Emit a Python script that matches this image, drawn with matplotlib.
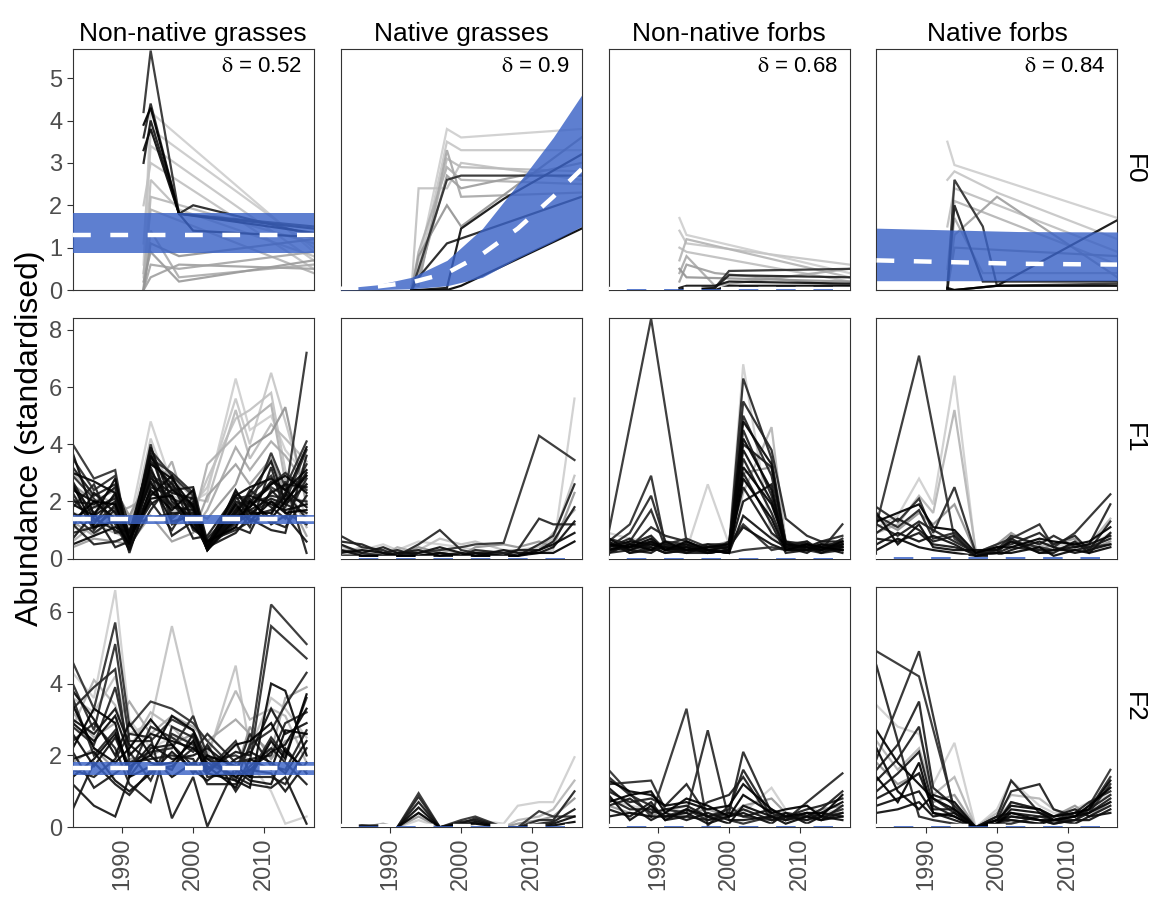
import numpy as np
import matplotlib
matplotlib.use("Agg")
import matplotlib.pyplot as plt

plt.rcParams['font.family'] = ['Liberation Sans', 'DejaVu Sans']
plt.rcParams['mathtext.fontset'] = 'stix'

groups = ["Non-native grasses", "Native grasses", "Non-native forbs", "Native forbs"]
stages = ["F0", "F1", "F2"]
deltas = ["0.52", "0.9", "0.68", "0.84"]
ylims = [5.68, 8.42, 6.7]
yticks = [[0, 1, 2, 3, 4, 5], [0, 2, 4, 6, 8], [0, 2, 4, 6]]
xticks = [1990, 2000, 2010]

# survey years (None = site not surveyed that year)
f0_years = [1993, 1994, 1998, 2000, 2006, 2017]
years = [1983, 1986, 1989, 1991, 1994, 1997, 2000, 2002, 2006, 2008, 2011, 2013, 2016]

# ---- F0 ----
nng_f0_pale = [
    [0.6, 4.2, None, None, None, 0.9],
    [0.3, 3.8, None, None, None, 1.0],
    [1.1, 3.4, None, None, None, 0.7],
    [2.0, 3.0, None, None, None, 0.5],
    [0.0, 2.6, 1.9, None, None, 0.8],
    [0.0, 2.2, None, None, None, 1.1],
    [0.4, 1.9, None, None, None, 0.4],
    [0.0, 1.4, 0.3, None, None, 0.6],
    [0.0, 0.6, 0.5, None, None, 0.9],
    [0.0, 0.3, 0.6, None, None, 0.5],
    [0.2, 0.9, 0.2, None, None, 0.7],
    [0.0, 1.1, 0.8, None, None, 1.2],
]
nng_f0_dark = [
    [4.2, 5.65, 1.8, None, None, 1.5],
    [3.6, 4.4, 1.8, 2.0, None, 1.3],
    [3.0, 4.0, 1.8, None, None, 1.45],
    [3.3, 3.8, 1.8, 1.4, None, 1.25],
    [3.9, 4.3, 1.8, None, None, 1.35],
]
ngr_f0_pale = [
    [0.0, 0.6, 3.8, 3.6, None, 3.8],
    [0.0, 0.4, 3.5, 3.3, None, 3.3],
    [0.0, 2.4, 2.4, 3.0, None, 2.6],
    [0.0, 0.2, 3.1, 2.9, None, 2.8],
    [0.0, 0.9, 2.9, 2.6, None, 2.5],
    [0.1, 0.1, 3.3, 2.2, None, 2.3],
    [0.0, 0.3, 2.7, 2.4, None, 3.0],
    [0.0, 0.8, 2.0, 1.5, None, 3.6],
]
ngr_f0_dark = [
    [0.0, 0.5, 2.6, 2.7, None, 2.7],
    [0.0, 0.3, 1.1, None, None, 2.2],
    [0.0, 0.0, 0.05, 1.45, 2.15, 3.2],
    [0.0, 0.0, 0.0, 0.1, None, 1.45],
]
nnf_f0_pale = [
    [1.7, 1.3, None, None, None, 0.4],
    [1.4, 1.1, None, None, None, 0.6],
    [1.0, 0.9, None, None, None, 0.2],
    [0.7, 1.2, None, None, None, 0.3],
    [0.4, 0.8, 0.1, None, None, 0.5],
    [0.2, 0.6, 0.4, None, None, 0.1],
    [0.5, 0.3, None, None, None, 0.2],
]
nnf_f0_dark = [
    [0.0, 0.0, 0.05, 0.45, None, 0.5],
    [0.0, 0.0, 0.05, 0.35, None, 0.3],
    [0.05, 0.1, 0.1, 0.2, None, 0.15],
    [0.0, 0.05, 0.0, 0.1, None, 0.1],
]
nfb_f0_pale = [
    [3.5, 2.95, None, None, None, 1.7],
    [2.6, 2.8, None, 2.3, None, 1.2],
    [1.5, 2.4, None, None, None, 0.9],
    [0.5, 2.1, None, None, None, 0.6],
    [0.2, 1.7, 0.4, None, None, 0.4],
    [0.0, 1.3, None, 2.2, None, 0.3],
    [0.0, 1.0, None, None, None, 0.8],
]
nfb_f0_dark = [
    [0.0, 2.6, 1.5, 0.1, None, 0.15],
    [0.0, 2.0, 0.2, None, None, 0.2],
    [0.0, 0.0, None, 0.1, None, 1.65],
    [0.05, 0.0, None, 0.1, None, 0.1],
]

# ---- F1 ----
nng_f1_pale = [
    [2.2, 1.8, 1.5, 1.2, 4.8, 2.6, 2.0, 2.3, 6.3, 4.5, 5.0, 3.8, 2.9],
    [1.6, 1.4, 1.1, 0.9, 4.2, 2.2, 1.9, 2.5, 5.6, 4.0, 6.5, 4.8, 2.2],
    [1.0, 1.9, 1.4, 0.8, 3.6, 1.7, 1.6, 2.8, 4.9, 5.2, 5.8, 3.1, 1.5],
    [3.0, 2.3, 1.9, 1.3, 3.3, 2.9, 2.1, 2.0, 5.2, 3.5, 4.7, 4.2, 3.4],
    [0.6, 1.2, 0.9, 0.7, 2.7, 1.2, 1.3, 3.3, 4.3, 4.8, 5.4, 2.7, 1.1],
    [1.3, 0.8, 1.6, 1.8, 2.2, 3.4, 1.0, 1.7, 3.9, 3.1, 4.1, 3.6, 2.6],
    [0.4, 0.7, 0.6, 0.5, 1.5, 0.6, 0.9, 2.2, 3.3, 2.6, 3.5, 2.3, 0.8],
    [2.6, 2.0, 2.4, 1.5, 2.9, 1.9, 1.6, 1.4, 2.6, 3.9, 4.4, 5.3, 1.9],
]
nng_f1_dark = [
    [4.0, 2.8, 3.1, 0.4, 4.0, 1.2, 1.6, 0.3, 1.9, 2.0, 2.5, 2.2, 7.2],
    [3.5, 2.4, 2.9, 0.6, 3.8, 2.9, 2.2, 0.5, 1.6, 1.8, 3.7, 2.5, 4.1],
    [2.9, 2.1, 1.2, 0.3, 3.5, 3.0, 2.3, 0.4, 2.1, 2.2, 2.9, 2.0, 3.8],
    [2.5, 1.6, 2.2, 0.8, 3.2, 1.4, 2.0, 0.3, 1.7, 2.0, 2.6, 3.0, 2.4],
    [2.1, 1.3, 1.8, 0.5, 2.9, 2.5, 1.5, 0.6, 1.2, 1.6, 2.0, 1.8, 3.3],
    [1.8, 2.6, 0.9, 1.0, 2.6, 2.1, 1.8, 0.5, 2.3, 1.9, 2.2, 2.1, 2.0],
    [1.5, 0.9, 1.4, 0.3, 2.3, 1.9, 1.2, 0.4, 1.5, 2.4, 1.8, 1.4, 2.8],
    [1.2, 0.5, 0.6, 0.8, 2.0, 1.0, 2.2, 0.6, 1.0, 1.3, 1.5, 2.7, 0.2],
    [0.9, 1.1, 1.7, 0.4, 1.7, 2.7, 1.0, 0.7, 1.8, 1.1, 3.2, 1.6, 1.2],
    [3.2, 2.2, 2.6, 1.2, 1.4, 1.6, 1.6, 0.3, 1.3, 1.7, 1.3, 1.1, 2.2],
    [0.7, 1.6, 0.4, 0.6, 3.0, 0.8, 1.3, 0.5, 1.1, 0.9, 2.4, 1.9, 1.6],
    [2.3, 1.0, 1.9, 0.2, 2.5, 2.2, 0.7, 0.8, 2.2, 1.4, 1.0, 0.9, 3.6],
    [1.4, 1.8, 2.1, 0.5, 3.7, 1.5, 1.9, 0.4, 0.9, 1.5, 1.7, 2.3, 1.4],
    [2.7, 1.4, 1.0, 0.7, 1.9, 2.4, 2.5, 0.6, 1.4, 2.1, 1.2, 1.5, 0.6],
    [2.0, 1.9, 2.5, 0.6, 3.4, 2.6, 1.7, 0.4, 1.5, 1.7, 2.1, 1.9, 2.6],
    [1.1, 2.3, 1.6, 0.4, 3.9, 2.0, 1.4, 0.3, 2.0, 1.8, 2.7, 2.4, 1.8],
    [3.7, 1.5, 2.0, 0.5, 2.8, 2.3, 2.1, 0.5, 1.7, 2.3, 3.4, 2.0, 3.0],
    [1.6, 1.2, 2.3, 0.7, 3.1, 1.8, 1.7, 0.6, 1.3, 1.5, 2.3, 2.6, 2.5],
    [2.4, 2.0, 1.4, 0.3, 2.2, 2.9, 1.3, 0.4, 1.6, 2.2, 1.9, 1.7, 1.9],
    [0.5, 0.8, 1.1, 0.9, 2.7, 1.3, 1.5, 0.3, 2.4, 1.6, 1.6, 2.2, 3.9],
    [3.0, 2.7, 2.3, 0.9, 3.6, 2.4, 1.9, 0.5, 2.2, 2.5, 2.8, 2.4, 3.1],
    [1.9, 1.5, 2.8, 0.6, 2.4, 1.7, 2.4, 0.3, 1.4, 1.8, 2.6, 2.9, 2.3],
    [2.6, 1.1, 1.3, 0.5, 3.3, 2.8, 1.8, 0.4, 1.9, 1.3, 2.0, 1.6, 1.7],
    [1.3, 2.0, 1.9, 0.7, 2.1, 2.2, 1.1, 0.6, 1.1, 2.0, 1.4, 2.0, 2.9],
]
ngr_f1_pale = [
    [0.4, 0.3, 0.5, 0.3, 0.6, 0.5, 0.4, 0.3, 0.2, 0.1, 0.2, 0.3, 5.6],
    [0.2, 0.4, 0.3, 0.2, 0.3, 0.7, 0.5, 0.6, 0.3, 0.3, 0.4, 0.7, 2.9],
    [0.1, 0.2, 0.1, 0.4, 0.2, 0.3, 0.2, 0.2, 0.1, 0.2, 0.3, 0.9, 1.7],
    [0.5, 0.1, 0.2, 0.1, 0.4, 0.2, 0.1, 0.4, 0.5, 0.4, 0.6, 0.4, 2.3],
]
ngr_f1_dark = [
    [0.3, 0.2, 0.1, 0.1, 0.2, 0.3, 0.4, 0.5, 0.55, None, 4.3, None, 3.45],
    [0.8, 0.4, 0.3, 0.1, 0.5, 1.0, 0.3, 0.2, 0.2, 0.3, 1.4, 1.2, 1.2],
    [0.6, 0.5, 0.2, 0.3, 0.1, 0.2, 0.1, 0.3, 0.2, 0.1, 0.5, 0.8, 2.6],
    [0.5, 0.2, 0.4, 0.2, 0.3, 0.1, 0.2, 0.1, 0.1, 0.3, 0.3, 0.6, 1.8],
    [0.3, 0.1, 0.1, 0.2, 0.2, 0.4, 0.2, 0.1, 0.3, 0.2, 0.2, 0.4, 1.3],
    [0.2, 0.3, 0.2, 0.1, 0.1, 0.2, 0.1, 0.2, 0.1, 0.1, 0.3, 0.5, 0.9],
    [0.1, 0.1, 0.1, 0.1, 0.1, 0.1, 0.1, 0.1, 0.1, 0.1, 0.2, 0.2, 0.6],
]
nnf_f1_pale = [
    [0.9, 0.7, 0.6, 0.5, 0.3, 2.6, 0.5, 6.8, 0.8, 0.5, 0.4, 0.3, 0.3],
    [0.5, 0.3, 0.4, 0.6, 0.4, 0.5, 0.3, 2.3, 4.6, 0.6, 0.5, 0.4, 0.5],
    [0.3, 0.5, 0.8, 0.3, 0.5, 0.4, 0.6, 3.0, 3.2, 0.4, 0.3, 0.6, 0.4],
]
nnf_f1_dark = [
    [0.9, None, 8.4, None, 0.6, 0.3, 0.2, 0.3, 0.4, 0.3, 0.3, 0.4, 0.5],
    [0.6, 1.2, 2.9, 0.5, 0.7, 0.4, 0.5, 1.2, 0.3, 0.4, 0.3, 0.2, 0.3],
    [0.4, 0.9, 2.2, 0.6, 0.5, 0.3, 0.4, 6.3, 3.5, 0.5, 0.6, 0.3, 1.2],
    [0.3, 0.6, 1.7, 0.4, 0.3, 0.2, 0.3, 5.5, 3.8, 1.4, 0.8, 0.6, 0.8],
    [0.5, 0.4, 1.1, 0.8, 0.6, 0.3, 0.2, 5.0, 2.9, 0.6, 0.5, 0.4, 0.6],
    [0.7, 0.5, 0.8, 0.3, 0.4, 0.5, 0.3, 4.5, 2.2, 0.3, 0.4, 0.5, 0.5],
    [0.2, 0.3, 0.5, 0.5, 0.2, 0.2, 0.6, 4.0, 3.2, 0.5, 0.3, 0.3, 0.7],
    [0.6, 0.2, 0.4, 0.2, 0.3, 0.4, 0.4, 3.5, 1.6, 0.4, 0.6, 0.2, 0.4],
    [0.4, 0.7, 0.3, 0.4, 0.5, 0.3, 0.2, 3.0, 1.2, 0.2, 0.3, 0.4, 0.3],
    [0.3, 0.4, 0.6, 0.3, 0.2, 0.5, 0.5, 2.5, 0.9, 0.5, 0.4, 0.6, 0.6],
    [0.5, 0.3, 0.2, 0.5, 0.4, 0.2, 0.3, 2.0, 2.6, 0.3, 0.5, 0.3, 0.4],
    [0.2, 0.5, 0.4, 0.2, 0.3, 0.3, 0.2, 1.5, 0.7, 0.4, 0.2, 0.5, 0.3],
    [0.6, 0.2, 0.3, 0.4, 0.2, 0.4, 0.4, 1.1, 0.5, 0.3, 0.4, 0.2, 0.5],
    [0.3, 0.4, 0.5, 0.3, 0.5, 0.2, 0.3, 3.8, 2.0, 0.6, 0.3, 0.4, 0.2],
    [0.4, 0.6, 0.5, 0.4, 0.3, 0.3, 0.4, 4.8, 3.3, 0.4, 0.5, 0.3, 0.5],
    [0.7, 0.3, 0.6, 0.3, 0.4, 0.2, 0.3, 4.2, 2.4, 0.3, 0.3, 0.5, 0.4],
    [0.3, 0.5, 0.3, 0.6, 0.3, 0.4, 0.5, 3.2, 1.9, 0.5, 0.4, 0.3, 0.6],
    [0.5, 0.4, 0.7, 0.3, 0.6, 0.3, 0.2, 2.8, 1.4, 0.3, 0.5, 0.4, 0.3],
]
nfb_f1_pale = [
    [1.1, 1.5, 2.8, 1.9, 6.4, 0.2, 0.4, 0.8, 0.5, 0.4, 0.6, 0.4, 0.9],
    [0.9, 1.2, 2.2, 1.6, 5.2, 0.3, 0.3, 0.6, 0.4, 0.6, 0.5, 0.5, 1.4],
    [1.4, 1.0, 1.6, 1.2, 1.9, 0.2, 0.5, 0.9, 0.3, 0.5, 0.7, 0.3, 0.6],
]
nfb_f1_dark = [
    [1.2, None, 7.1, None, 0.7, 0.2, 0.3, 0.6, 0.4, 0.3, 0.5, 0.4, 0.5],
    [1.8, 1.3, 2.1, 0.9, 2.5, 0.2, 0.5, 0.7, 1.2, 0.4, 0.9, None, 2.25],
    [1.5, 1.1, 1.7, 0.7, 0.9, 0.1, 0.3, 0.8, 0.5, 0.8, 0.4, 0.5, 1.9],
    [1.2, 0.8, 1.3, 1.0, 0.6, 0.2, 0.4, 0.5, 0.9, 0.5, 0.8, 0.3, 1.3],
    [0.9, 1.4, 1.0, 0.6, 0.8, 0.1, 0.2, 0.4, 0.3, 0.3, 0.3, 0.4, 0.7],
    [0.7, 0.6, 0.9, 0.5, 0.4, 0.2, 0.2, 0.7, 0.2, 0.2, 0.6, 0.2, 0.9],
    [0.5, 0.9, 0.6, 0.8, 0.5, 0.1, 0.1, 0.3, 0.6, 0.4, 0.2, 0.3, 0.5],
    [1.6, 0.5, 1.2, 0.4, 0.3, 0.3, 0.3, 0.6, 0.2, 0.3, 0.4, 0.5, 0.8],
    [0.3, 0.7, 0.4, 0.3, 0.2, 0.1, 0.2, 0.2, 0.4, 0.1, 0.3, 0.2, 0.4],
    [1.3, 1.6, 1.9, 1.1, 1.0, 0.2, 0.4, 0.4, 0.7, 0.6, 0.5, 0.6, 1.1],
]

# ---- F2 ----
nng_f2_pale = [
    [4.3, 3.6, 6.6, 3.0, 2.2, 2.5, 2.4, 1.5, 2.3, 1.8, 1.0, 0.1, 0.3],
    [3.6, 3.2, 4.2, 2.6, 2.9, 5.6, 3.1, 1.9, 4.5, 2.2, 3.6, 3.3, 2.5],
    [2.8, 4.1, 3.4, 2.2, 3.2, 2.8, 2.2, 2.1, 3.8, 3.0, 3.3, 3.1, 1.8],
    [3.2, 2.5, 2.9, 3.5, 2.6, 3.1, 2.8, 2.4, 3.0, 2.6, 2.1, 3.6, 3.9],
    [1.8, 2.2, 1.6, 1.9, 2.0, 2.3, 2.6, 1.7, 1.5, 2.8, 1.9, 2.4, 2.6],
]
nng_f2_dark = [
    [4.6, 3.3, 5.7, 2.8, 3.5, 3.3, 2.9, 2.4, 1.6, 2.2, 6.2, None, 5.1],
    [4.0, 2.7, 5.1, 2.4, 2.4, 3.0, 2.7, 1.9, 2.0, 1.8, 5.6, None, 4.7],
    [3.3, 3.9, 4.4, 1.8, 2.1, 2.2, 3.1, 2.0, 1.3, 2.3, 2.7, 3.4, 4.3],
    [2.8, 2.3, 3.9, 2.1, 1.3, 2.6, 2.3, 1.6, 2.4, 1.5, 2.5, 2.0, 3.6],
    [3.6, 2.0, 2.7, 1.5, 2.8, 2.5, 2.1, 2.6, 1.8, 1.9, 2.0, 2.9, 3.2],
    [2.4, 2.9, 2.2, 1.2, 0.7, 2.8, 2.5, 1.4, 1.5, 2.6, 1.7, 1.6, 2.7],
    [1.6, 1.4, 1.9, 2.6, 2.5, 0.25, 1.4, 0.02, 1.7, 1.4, 1.4, 1.2, 2.2],
    [2.1, 1.1, 1.5, 1.8, 1.9, 2.0, 1.9, 1.2, 1.2, 1.7, 2.2, 1.8, 1.2],
    [0.5, 1.8, 1.2, 0.9, 1.6, 1.7, 2.2, 1.8, 1.4, 1.2, 1.1, 1.4, 0.1],
    [1.2, 0.6, 0.3, 1.4, 2.2, 2.3, 1.7, 2.3, 1.0, 1.6, 1.5, 1.0, 1.8],
    [3.0, 2.6, 3.3, 2.3, 1.8, 1.6, 2.6, 1.6, 2.1, 2.0, 3.3, 2.6, 2.9],
    [2.6, 1.7, 2.5, 1.6, 2.3, 1.9, 2.0, 2.2, 1.6, 1.3, 1.2, 2.2, 1.5],
    [1.9, 2.1, 1.3, 1.0, 1.5, 2.1, 1.6, 1.3, 1.9, 2.1, 1.8, 1.5, 2.4],
    [3.8, 3.0, 2.0, 2.9, 2.0, 1.4, 1.8, 1.5, 1.3, 1.1, 4.0, 3.8, 2.0],
    [2.9, 2.4, 3.1, 2.0, 2.6, 2.4, 2.2, 1.9, 1.4, 1.6, 2.1, 2.3, 3.3],
    [1.4, 1.9, 2.6, 1.7, 2.0, 3.1, 2.7, 1.7, 1.1, 1.9, 1.6, 2.7, 2.6],
    [3.4, 2.2, 1.8, 2.2, 3.0, 2.3, 1.5, 2.0, 1.7, 1.4, 2.4, 1.9, 3.7],
    [2.2, 3.3, 2.9, 1.4, 1.7, 1.8, 2.4, 1.5, 2.3, 2.4, 2.9, 2.1, 1.6],
]
ngr_f2_pale = [
    [0.0, 0.0, 0.0, 0.0, 0.2, 0.0, 0.1, 0.2, 0.1, 0.6, 0.7, 0.7, 1.95],
    [0.0, 0.0, 0.0, 0.0, 0.4, 0.0, 0.0, 0.1, 0.0, 0.2, 0.3, 0.5, 1.3],
    [0.0, 0.0, 0.1, 0.0, 0.3, 0.0, 0.1, 0.2, 0.0, 0.1, 0.2, 0.3, 0.8],
]
ngr_f2_dark = [
    [0.0, 0.05, 0.05, 0.0, 0.95, 0.0, 0.2, 0.3, 0.0, 0.0, 0.45, 0.3, 0.3],
    [0.0, 0.0, 0.05, 0.0, 0.85, 0.0, 0.1, 0.25, 0.0, 0.0, 0.2, 0.2, 1.0],
    [0.0, 0.05, 0.0, 0.0, 0.7, 0.0, 0.15, 0.2, 0.0, 0.0, 0.1, 0.15, 0.5],
    [0.0, 0.0, 0.0, 0.0, 0.55, 0.0, 0.05, 0.15, 0.0, 0.0, 0.05, 0.1, 0.3],
    [0.0, 0.0, 0.0, 0.0, 0.4, 0.0, 0.1, 0.1, 0.0, 0.0, 0.0, 0.05, 0.15],
]
nnf_f2_pale = [
    [0.8, 0.6, 0.5, 0.4, 0.6, 0.3, 0.5, 0.4, 1.1, 0.5, 0.6, 0.4, 0.5],
    [0.6, 0.4, 0.3, 0.5, 0.4, 0.5, 0.3, 0.6, 0.8, 0.4, 0.3, 0.5, 0.6],
]
nnf_f2_dark = [
    [1.6, None, 0.3, None, 3.3, 0.05, 0.6, 0.3, 0.2, 0.3, 0.2, 0.3, 0.4],
    [1.2, 1.25, 1.3, 0.5, 0.4, 2.7, 0.2, 0.1, 0.3, 0.2, 0.4, 0.3, 0.5],
    [1.4, 0.9, 0.6, 0.3, 0.5, 0.2, 0.4, 2.1, 0.4, 0.2, 0.7, None, 1.5],
    [1.0, 0.7, 0.8, 0.6, 1.2, 0.3, 0.5, 1.6, 0.3, 0.4, 0.3, 0.5, 1.0],
    [0.8, 0.5, 0.5, 0.3, 0.3, 0.7, 0.9, 1.4, 0.2, 0.3, 0.5, 0.6, 0.8],
    [0.6, 0.8, 0.4, 0.5, 0.6, 0.3, 0.4, 0.3, 0.5, 0.2, 0.3, 0.2, 0.6],
    [0.5, 0.3, 0.7, 0.2, 0.3, 0.2, 0.3, 0.5, 0.2, 0.3, 0.2, 0.4, 0.3],
    [1.1, 0.6, 0.2, 0.4, 0.2, 0.4, 0.2, 0.2, 0.3, 0.2, 0.4, 0.2, 0.4],
    [0.3, 0.4, 0.3, 0.3, 0.4, 0.1, 0.3, 0.4, 0.1, 0.4, 0.1, 0.3, 0.2],
    [0.9, 0.2, 0.6, 0.2, 0.5, 0.3, 0.1, 0.6, 0.3, 0.1, 0.3, 0.2, 0.3],
    [1.3, 1.0, 0.9, 0.6, 0.7, 0.5, 0.6, 1.2, 0.5, 0.3, 0.4, 0.4, 0.7],
    [0.7, 0.9, 1.0, 0.4, 0.8, 0.6, 0.3, 0.9, 0.4, 0.5, 0.6, 0.3, 0.9],
]
nfb_f2_pale = [
    [3.4, 2.8, 2.6, 1.2, 2.35, 0.0, 0.5, 1.3, 0.6, 0.4, 0.5, 0.7, 0.9],
    [2.4, 1.6, 2.2, 0.9, 1.4, 0.0, 0.4, 0.9, 0.8, 0.5, 0.3, 0.6, 1.1],
    [1.8, 1.2, 1.5, 0.7, 0.9, 0.0, 0.2, 0.7, 0.5, 0.3, 0.6, 0.3, 0.7],
]
nfb_f2_dark = [
    [4.9, None, 4.2, None, 0.5, 0.0, 0.1, 0.2, 0.1, 0.2, 0.3, 0.6, 1.6],
    [1.9, None, 4.9, None, 0.4, 0.0, 0.2, 0.3, 0.2, 0.1, 0.2, 0.5, 1.4],
    [4.5, None, 0.3, 0.2, 0.1, 0.0, 0.1, 0.1, 0.3, 0.2, 0.4, 0.4, 1.2],
    [1.6, 2.3, 3.5, 1.1, 0.6, 0.0, 0.3, 1.3, 0.4, 0.3, 0.4, 0.7, 1.0],
    [1.3, 1.9, 2.8, 0.8, 0.4, 0.0, 0.2, 1.0, 1.2, 0.5, 0.3, 0.5, 0.9],
    [1.0, 1.5, 2.1, 0.6, 0.3, 0.0, 0.1, 0.7, 0.5, 0.2, 0.2, 0.4, 0.8],
    [0.8, 1.1, 1.5, 0.5, 0.5, 0.0, 0.3, 0.4, 0.3, 0.3, 0.5, 0.3, 0.6],
    [0.6, 0.8, 1.0, 0.4, 0.2, 0.0, 0.1, 0.3, 0.2, 0.1, 0.2, 0.2, 0.5],
    [0.4, 0.5, 0.7, 0.3, 0.4, 0.0, 0.2, 0.2, 0.1, 0.2, 0.1, 0.3, 0.4],
    [2.2, 1.0, 0.5, 0.9, 0.7, 0.0, 0.1, 0.5, 0.4, 0.2, 0.3, 0.4, 0.7],
    [2.7, 1.8, 1.2, 0.8, 0.5, 0.0, 0.2, 0.6, 0.5, 0.3, 0.4, 0.5, 1.3],
    [1.4, 0.7, 1.8, 0.4, 0.3, 0.0, 0.1, 0.4, 0.2, 0.2, 0.3, 0.6, 1.1],
]

# model fits: mean and credible band over time
span = [1983, 2017]
nng_f0_fit = dict(x=span, lo=[0.88, 0.88], mid=[1.30, 1.30], hi=[1.82, 1.82])
ngr_f0_fit = dict(x=[1983, 1988, 1993, 1998, 2003, 2008, 2013, 2017],
                  lo=[0.0, 0.01, 0.03, 0.1, 0.3, 0.75, 1.15, 1.5],
                  mid=[0.03, 0.08, 0.18, 0.4, 0.85, 1.45, 2.2, 2.85],
                  hi=[0.04, 0.12, 0.3, 0.7, 1.45, 2.5, 3.6, 4.6])
nnf_f0_fit = dict(x=span, lo=[0.0, 0.0], mid=[0.03, 0.03], hi=[0.03, 0.03])
nfb_f0_fit = dict(x=[1983, 1993, 2003, 2017], lo=[0.22, 0.22, 0.22, 0.22],
                  mid=[0.70, 0.66, 0.62, 0.60], hi=[1.46, 1.42, 1.38, 1.37])
nng_f1_fit = dict(x=span, lo=[1.20, 1.20], mid=[1.37, 1.37], hi=[1.52, 1.52])
ngr_f1_fit = dict(x=span, lo=[0.0, 0.0], mid=[0.04, 0.04], hi=[0.04, 0.04])
nnf_f1_fit = dict(x=span, lo=[0.0, 0.0], mid=[0.04, 0.04], hi=[0.04, 0.04])
nfb_f1_fit = dict(x=span, lo=[0.0, 0.0], mid=[0.05, 0.05], hi=[0.05, 0.05])
nng_f2_fit = dict(x=span, lo=[1.45, 1.45], mid=[1.64, 1.64], hi=[1.82, 1.82])
ngr_f2_fit = dict(x=span, lo=[0.0, 0.0], mid=[0.04, 0.04], hi=[0.04, 0.04])
nnf_f2_fit = dict(x=span, lo=[0.0, 0.0], mid=[0.04, 0.04], hi=[0.04, 0.04])
nfb_f2_fit = dict(x=span, lo=[0.0, 0.0], mid=[0.04, 0.04], hi=[0.04, 0.04])

panels = [
    [(f0_years, nng_f0_pale, nng_f0_dark, nng_f0_fit),
     (f0_years, ngr_f0_pale, ngr_f0_dark, ngr_f0_fit),
     (f0_years, nnf_f0_pale, nnf_f0_dark, nnf_f0_fit),
     (f0_years, nfb_f0_pale, nfb_f0_dark, nfb_f0_fit)],
    [(years, nng_f1_pale, nng_f1_dark, nng_f1_fit),
     (years, ngr_f1_pale, ngr_f1_dark, ngr_f1_fit),
     (years, nnf_f1_pale, nnf_f1_dark, nnf_f1_fit),
     (years, nfb_f1_pale, nfb_f1_dark, nfb_f1_fit)],
    [(years, nng_f2_pale, nng_f2_dark, nng_f2_fit),
     (years, ngr_f2_pale, ngr_f2_dark, ngr_f2_fit),
     (years, nnf_f2_pale, nnf_f2_dark, nnf_f2_fit),
     (years, nfb_f2_pale, nfb_f2_dark, nfb_f2_fit)],
]


def draw_site(ax, yrs, vals, colour):
    pts = [(x, v) for x, v in zip(yrs, vals) if v is not None]
    xs, ys = zip(*pts)
    ax.plot(xs, ys, color=colour, lw=1.6, alpha=0.92, zorder=2,
            solid_joinstyle='miter')


fig, axes = plt.subplots(3, 4, figsize=(11.52, 9), dpi=100)
fig.subplots_adjust(left=0.0631, right=0.970, top=0.9452, bottom=0.0808,
                     wspace=0.112, hspace=0.116)
greys = plt.get_cmap('Greys')

for r in range(3):
    for c in range(4):
        ax = axes[r, c]
        yrs, pale, dark, fit = panels[r][c]
        for i, vals in enumerate(pale):
            draw_site(ax, yrs, vals, greys(np.linspace(0.3, 0.5, len(pale))[i]))
        for i, vals in enumerate(dark):
            draw_site(ax, yrs, vals, greys(np.linspace(0.85, 1.0, len(dark))[i]))

        ax.fill_between(fit['x'], fit['lo'], fit['hi'], color='#3b63c6',
                        alpha=0.82, lw=0, zorder=3)
        ax.plot(fit['x'], fit['mid'], color='white', lw=3.2,
                ls=(0, (4.0, 4.4)), zorder=4)

        ax.set_xlim(1983, 2017)
        ax.set_ylim(0, ylims[r])
        ax.set_xticks(xticks)
        ax.set_yticks(yticks[r])
        for s in ax.spines.values():
            s.set_color('#333333')
            s.set_linewidth(0.8)
        ax.tick_params(direction='out', length=4, width=0.8, color='#333333',
                       labelsize=17, labelcolor='#4d4d4d')
        if c > 0:
            ax.tick_params(axis='y', left=False, labelleft=False)
        if r < 2:
            ax.tick_params(axis='x', bottom=False, labelbottom=False)
        else:
            ax.tick_params(axis='x', labelrotation=90)

        if r == 0:
            ax.set_title(groups[c], fontsize=19, pad=6)
            ax.text(0.95, 0.93, r'$\mathrm{\delta}$ = ' + deltas[c],
                    transform=ax.transAxes, ha='right', va='center', fontsize=16)
        if c == 3:
            ax.text(1.07, 0.5, stages[r], transform=ax.transAxes, rotation=-90,
                    ha='center', va='center', fontsize=19)

fig.text(0.026, 0.513, 'Abundance (standardised)', rotation=90,
         ha='center', va='center', fontsize=23)

fig.savefig('out.png', dpi=100)
